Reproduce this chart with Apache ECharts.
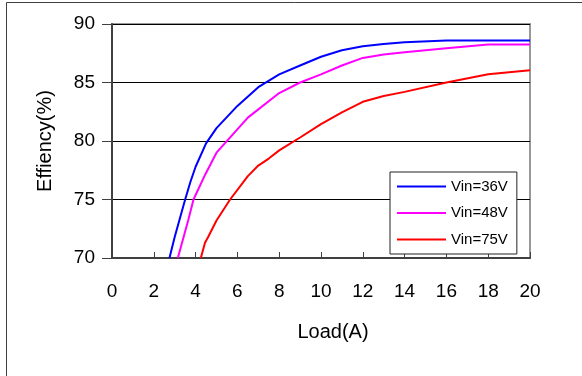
<!DOCTYPE html>
<html>
<head>
<meta charset="utf-8">
<script src="https://cdn.jsdelivr.net/npm/echarts@6/dist/echarts.min.js"></script>
<style>
	html,body{margin:0;padding:0;background:#fff;}
	#chart{width:582px;height:376px;}
</style>
</head>
<body>
<div id="chart"></div>
<script>
// 各输入电压下的效率曲线 (负载A, 效率%)
var load36 = [2.75, 3.0, 3.5, 3.75, 4.0, 4.5, 5.0, 6.0, 7.0, 8.0, 9.0, 10.0, 11.0, 12.0, 13.0, 14.0, 16.0, 18.0, 20.0];
var eff36  = [70, 71.8, 75, 76.5, 77.8, 79.8, 81.1, 83.0, 84.6, 85.7, 86.45, 87.2, 87.75, 88.1, 88.3, 88.45, 88.6, 88.6, 88.6];

var load48 = [3.15, 3.65, 3.9, 4.45, 5.0, 6.5, 8.0, 9.0, 10.0, 11.0, 12.0, 13.0, 14.0, 16.0, 18.0, 20.0];
var eff48  = [70, 73.25, 75, 77.1, 79.0, 82.0, 84.1, 85.0, 85.7, 86.45, 87.1, 87.4, 87.58, 87.92, 88.25, 88.25];

var load75 = [4.25, 4.45, 4.6, 5.0, 5.65, 6.5, 7.0, 7.5, 8.0, 9.0, 10.0, 11.0, 12.0, 13.0, 14.0, 16.0, 18.0, 20.0];
var eff75  = [70, 71.3, 71.8, 73.2, 75.0, 77.0, 77.9, 78.5, 79.2, 80.3, 81.45, 82.45, 83.35, 83.85, 84.2, 85.0, 85.7, 86.05];

var seriesNames = ['Vin=36V', 'Vin=48V', 'Vin=75V'];
var seriesColors = ['#0000FF', '#FF00FF', '#FF0000'];

function pairs(xs, ys){
	var out = [];
	for(var i=0;i<xs.length;i++){
		out.push([xs[i], ys[i]]);
	}
	return out;
}

var allData = [pairs(load36, eff36), pairs(load48, eff48), pairs(load75, eff75)];
var font = 'Liberation Sans, Arial, sans-serif';

var series = [];
for(var k=0;k<3;k++){
	series.push({
		name: seriesNames[k],
		type: 'line',
		symbol: 'none',
		smooth: false,
		data: allData[k],
		lineStyle: {color: seriesColors[k], width: 2},
		itemStyle: {color: seriesColors[k]}
	});
}

var chart = echarts.init(document.getElementById('chart'));
var option = {
	animation: false,
	backgroundColor: '#fff',
	textStyle: {fontFamily: font},
	graphic: [{ //外框
		type: 'rect',
		shape: {x: 6.5, y: 2.5, width: 1000, height: 1000},
		style: {fill: 'none', stroke: '#404040', lineWidth: 1}
	}],
	grid: {
		left: 112, right: 52, top: 24, bottom: 118,
		show: true,
		borderColor: '#999',
		borderWidth: 2
	},
	legend: {
		orient: 'vertical',
		left: 390, top: 172,
		data: seriesNames,
		icon: 'path://M0,0 L100,0 L100,4 L0,4 Z', //图例只画一条线
		itemWidth: 49,
		itemHeight: 14,
		itemGap: 11.5,
		padding: [7, 9, 7, 7],
		borderColor: '#222',
		borderWidth: 1,
		backgroundColor: '#fff',
		textStyle: {fontSize: 15, color: '#000', fontFamily: font}
	},
	xAxis: {
		type: 'value',
		min: 0, max: 20, interval: 2,
		name: 'Load(A)',
		nameLocation: 'middle',
		nameGap: 64,
		nameTextStyle: {fontSize: 20, color: '#000', padding: [0, 0, 0, 24]},
		axisLine: {show: true, lineStyle: {color: '#404040', width: 2}},
		axisTick: {show: true, inside: true, length: 6, lineStyle: {color: '#404040'}},
		axisLabel: {fontSize: 19, color: '#000', margin: 24},
		splitLine: {show: false}
	},
	yAxis: {
		type: 'value',
		min: 70, max: 90, interval: 5,
		name: 'Effiency(%)',
		nameLocation: 'middle',
		nameGap: 57,
		nameTextStyle: {fontSize: 20, color: '#000'},
		axisLine: {show: true, lineStyle: {color: '#404040', width: 2}},
		axisTick: {show: true, inside: false, length: 10, lineStyle: {color: '#404040'}},
		axisLabel: {fontSize: 19, color: '#000', margin: 17},
		splitLine: {show: true, lineStyle: {color: '#000', width: 1}}
	},
	series: series
};
chart.setOption(option);
</script>
</body>
</html>
